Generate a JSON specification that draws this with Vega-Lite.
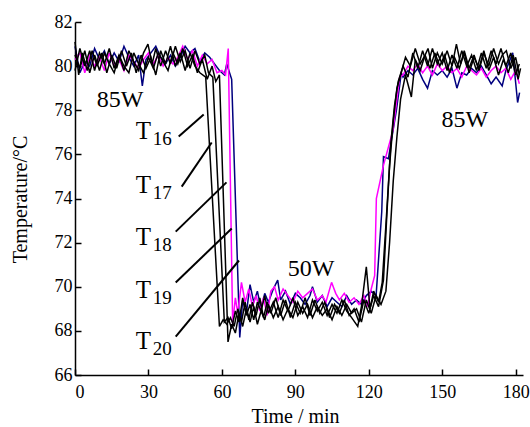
{
  "$schema": "https://vega.github.io/schema/vega-lite/v6.json",
  "width": 448,
  "height": 353,
  "autosize": {"type": "none"},
  "padding": {"left": 75, "top": 22, "right": 7, "bottom": 52},
  "background": "white",
  "config": {
    "view": {"stroke": null},
    "font": "Liberation Serif",
    "axis": {
      "grid": false,
      "domainColor": "#000",
      "domainWidth": 1.5,
      "tickColor": "#000",
      "tickWidth": 1.5,
      "tickSize": -6,
      "labelFont": "Liberation Serif",
      "labelFontSize": 18,
      "labelColor": "#000",
      "titleFont": "Liberation Serif",
      "titleFontSize": 20,
      "titleFontWeight": "normal",
      "titleColor": "#000"
    },
    "text": {"font": "Liberation Serif"}
  },
  "datasets": {
    "series": [
      {"s":"T20","t":0,"v":80.9},{"s":"T20","t":2,"v":79.7},{"s":"T20","t":4,"v":80.2},{"s":"T20","t":6,"v":80.0},{"s":"T20","t":8,"v":80.8},{"s":"T20","t":10,"v":80.3},{"s":"T20","t":12,"v":80.7},{"s":"T20","t":14,"v":80.1},{"s":"T20","t":16,"v":80.6},{"s":"T20","t":18,"v":80.2},{"s":"T20","t":20,"v":80.9},{"s":"T20","t":22,"v":80.4},{"s":"T20","t":24,"v":80.0},{"s":"T20","t":26,"v":80.5},{"s":"T20","t":27.5,"v":79.1},{"s":"T20","t":29,"v":80.3},{"s":"T20","t":31,"v":80.6},{"s":"T20","t":33,"v":80.9},{"s":"T20","t":35,"v":80.4},{"s":"T20","t":37,"v":80.1},{"s":"T20","t":39,"v":80.5},{"s":"T20","t":41,"v":80.0},{"s":"T20","t":43,"v":80.4},{"s":"T20","t":45,"v":80.9},{"s":"T20","t":47,"v":80.6},{"s":"T20","t":49,"v":80.8},{"s":"T20","t":51,"v":80.2},{"s":"T20","t":53,"v":80.6},{"s":"T20","t":55,"v":80.4},{"s":"T20","t":57,"v":80.1},{"s":"T20","t":59,"v":79.8},{"s":"T20","t":61,"v":79.6},{"s":"T20","t":62,"v":80.1},{"s":"T20","t":64,"v":79.4},{"s":"T20","t":67.3,"v":67.7},{"s":"T20","t":68.5,"v":69.4},{"s":"T20","t":70,"v":68.8},{"s":"T20","t":71.5,"v":70.1},{"s":"T20","t":73,"v":69.3},{"s":"T20","t":74.5,"v":69.8},{"s":"T20","t":76,"v":69.0},{"s":"T20","t":77.5,"v":69.7},{"s":"T20","t":79,"v":69.3},{"s":"T20","t":81,"v":69.9},{"s":"T20","t":82.8,"v":70.3},{"s":"T20","t":84,"v":69.4},{"s":"T20","t":86,"v":69.8},{"s":"T20","t":88,"v":69.2},{"s":"T20","t":90,"v":69.7},{"s":"T20","t":92,"v":69.5},{"s":"T20","t":94,"v":69.2},{"s":"T20","t":96,"v":69.6},{"s":"T20","t":97,"v":70.0},{"s":"T20","t":99,"v":69.3},{"s":"T20","t":101,"v":69.6},{"s":"T20","t":103,"v":69.1},{"s":"T20","t":105,"v":69.5},{"s":"T20","t":107,"v":69.3},{"s":"T20","t":109,"v":69.1},{"s":"T20","t":111,"v":69.6},{"s":"T20","t":113,"v":69.2},{"s":"T20","t":115,"v":69.4},{"s":"T20","t":117,"v":69.2},{"s":"T20","t":119,"v":69.6},{"s":"T20","t":121,"v":69.8},{"s":"T20","t":123,"v":69.6},{"s":"T20","t":125.3,"v":73.4},{"s":"T20","t":126,"v":75.9},{"s":"T20","t":128,"v":75.8},{"s":"T20","t":131.3,"v":78.0},{"s":"T20","t":133.3,"v":79.7},{"s":"T20","t":134,"v":79.5},{"s":"T20","t":136,"v":79.8},{"s":"T20","t":138,"v":79.6},{"s":"T20","t":140,"v":79.9},{"s":"T20","t":142,"v":79.4},{"s":"T20","t":144,"v":79.0},{"s":"T20","t":146,"v":79.8},{"s":"T20","t":148,"v":79.6},{"s":"T20","t":150,"v":79.8},{"s":"T20","t":152,"v":79.5},{"s":"T20","t":154,"v":79.9},{"s":"T20","t":156,"v":79.0},{"s":"T20","t":158,"v":79.7},{"s":"T20","t":160,"v":79.6},{"s":"T20","t":162,"v":79.9},{"s":"T20","t":164,"v":79.7},{"s":"T20","t":166,"v":80.0},{"s":"T20","t":168,"v":79.6},{"s":"T20","t":170,"v":79.2},{"s":"T20","t":172,"v":79.5},{"s":"T20","t":174.5,"v":79.1},{"s":"T20","t":176,"v":79.8},{"s":"T20","t":178.8,"v":80.6},{"s":"T20","t":180.8,"v":78.35},{"s":"T20","t":181.6,"v":78.8},
      {"s":"T19","t":0,"v":80.3},{"s":"T19","t":2,"v":80.6},{"s":"T19","t":4,"v":79.7},{"s":"T19","t":6,"v":80.5},{"s":"T19","t":8,"v":80.0},{"s":"T19","t":10,"v":80.4},{"s":"T19","t":12,"v":79.8},{"s":"T19","t":14,"v":80.6},{"s":"T19","t":16,"v":80.0},{"s":"T19","t":18,"v":80.3},{"s":"T19","t":20,"v":79.8},{"s":"T19","t":22,"v":80.5},{"s":"T19","t":24,"v":80.2},{"s":"T19","t":26,"v":79.9},{"s":"T19","t":28,"v":80.3},{"s":"T19","t":30,"v":80.6},{"s":"T19","t":32,"v":80.1},{"s":"T19","t":34,"v":80.5},{"s":"T19","t":36,"v":80.0},{"s":"T19","t":38,"v":80.4},{"s":"T19","t":40,"v":80.1},{"s":"T19","t":42,"v":80.4},{"s":"T19","t":44,"v":80.9},{"s":"T19","t":46,"v":80.3},{"s":"T19","t":48,"v":80.7},{"s":"T19","t":50,"v":80.0},{"s":"T19","t":52,"v":80.5},{"s":"T19","t":54,"v":80.1},{"s":"T19","t":56,"v":80.3},{"s":"T19","t":58,"v":79.7},{"s":"T19","t":60,"v":79.8},{"s":"T19","t":61.5,"v":79.6},{"s":"T19","t":62.6,"v":80.8},{"s":"T19","t":64.4,"v":68.3},{"s":"T19","t":65.5,"v":69.5},{"s":"T19","t":66.5,"v":68.8},{"s":"T19","t":68,"v":70.2},{"s":"T19","t":69.5,"v":69.3},{"s":"T19","t":71,"v":69.9},{"s":"T19","t":72.5,"v":69.1},{"s":"T19","t":74,"v":69.6},{"s":"T19","t":75.5,"v":68.9},{"s":"T19","t":77,"v":69.5},{"s":"T19","t":78.5,"v":68.7},{"s":"T19","t":80,"v":69.8},{"s":"T19","t":81.5,"v":70.0},{"s":"T19","t":83,"v":69.4},{"s":"T19","t":85,"v":69.9},{"s":"T19","t":87,"v":69.6},{"s":"T19","t":89,"v":69.3},{"s":"T19","t":91,"v":69.8},{"s":"T19","t":93,"v":69.5},{"s":"T19","t":95,"v":69.7},{"s":"T19","t":97,"v":69.9},{"s":"T19","t":99,"v":69.4},{"s":"T19","t":101,"v":69.6},{"s":"T19","t":102.5,"v":69.3},{"s":"T19","t":104.8,"v":70.2},{"s":"T19","t":106.5,"v":69.7},{"s":"T19","t":108,"v":69.4},{"s":"T19","t":110,"v":69.7},{"s":"T19","t":112,"v":69.3},{"s":"T19","t":114,"v":69.5},{"s":"T19","t":116,"v":69.2},{"s":"T19","t":118,"v":69.6},{"s":"T19","t":119.5,"v":69.1},{"s":"T19","t":121,"v":69.9},{"s":"T19","t":122.4,"v":70.5},{"s":"T19","t":123.1,"v":74.0},{"s":"T19","t":126,"v":75.5},{"s":"T19","t":129.9,"v":77.1},{"s":"T19","t":132.6,"v":79.5},{"s":"T19","t":134,"v":79.6},{"s":"T19","t":136,"v":80.0},{"s":"T19","t":138,"v":79.8},{"s":"T19","t":140,"v":80.1},{"s":"T19","t":142,"v":79.7},{"s":"T19","t":144,"v":80.0},{"s":"T19","t":146,"v":79.6},{"s":"T19","t":148,"v":80.1},{"s":"T19","t":150,"v":79.8},{"s":"T19","t":152,"v":80.0},{"s":"T19","t":154,"v":79.7},{"s":"T19","t":156,"v":79.9},{"s":"T19","t":158,"v":79.5},{"s":"T19","t":160,"v":80.0},{"s":"T19","t":162,"v":79.8},{"s":"T19","t":164,"v":79.6},{"s":"T19","t":166,"v":79.9},{"s":"T19","t":168,"v":79.5},{"s":"T19","t":170,"v":79.8},{"s":"T19","t":172,"v":80.0},{"s":"T19","t":174,"v":79.7},{"s":"T19","t":176,"v":79.9},{"s":"T19","t":178,"v":79.4},{"s":"T19","t":180,"v":79.8},{"s":"T19","t":181.5,"v":79.2},
      {"s":"T16","t":0,"v":81.1},{"s":"T16","t":1.5,"v":79.6},{"s":"T16","t":3,"v":80.6},{"s":"T16","t":5,"v":79.8},{"s":"T16","t":7,"v":80.7},{"s":"T16","t":9,"v":80.0},{"s":"T16","t":11,"v":80.6},{"s":"T16","t":13,"v":79.7},{"s":"T16","t":15,"v":80.5},{"s":"T16","t":17,"v":79.9},{"s":"T16","t":19,"v":80.7},{"s":"T16","t":21,"v":80.0},{"s":"T16","t":23,"v":80.6},{"s":"T16","t":25,"v":79.7},{"s":"T16","t":27,"v":80.5},{"s":"T16","t":29,"v":79.9},{"s":"T16","t":31,"v":80.4},{"s":"T16","t":33,"v":79.6},{"s":"T16","t":35,"v":80.7},{"s":"T16","t":37,"v":80.1},{"s":"T16","t":39,"v":80.9},{"s":"T16","t":41,"v":80.0},{"s":"T16","t":43,"v":80.6},{"s":"T16","t":45,"v":79.8},{"s":"T16","t":47,"v":80.6},{"s":"T16","t":49,"v":80.0},{"s":"T16","t":51,"v":79.7},{"s":"T16","t":53.4,"v":79.5},{"s":"T16","t":59,"v":68.2},{"s":"T16","t":60.5,"v":68.5},{"s":"T16","t":62,"v":68.3},{"s":"T16","t":63.5,"v":68.6},{"s":"T16","t":65,"v":68.2},{"s":"T16","t":66.5,"v":69.0},{"s":"T16","t":68,"v":68.4},{"s":"T16","t":69.5,"v":69.3},{"s":"T16","t":71,"v":68.5},{"s":"T16","t":72.5,"v":69.3},{"s":"T16","t":74,"v":68.7},{"s":"T16","t":75.5,"v":69.5},{"s":"T16","t":77,"v":68.6},{"s":"T16","t":78.5,"v":69.3},{"s":"T16","t":80,"v":68.8},{"s":"T16","t":82,"v":69.5},{"s":"T16","t":84,"v":68.7},{"s":"T16","t":86,"v":69.4},{"s":"T16","t":88,"v":68.6},{"s":"T16","t":90,"v":69.3},{"s":"T16","t":92,"v":68.8},{"s":"T16","t":94,"v":69.5},{"s":"T16","t":96,"v":68.7},{"s":"T16","t":98,"v":69.4},{"s":"T16","t":100,"v":68.8},{"s":"T16","t":102,"v":69.3},{"s":"T16","t":104,"v":68.6},{"s":"T16","t":106,"v":69.2},{"s":"T16","t":108,"v":68.8},{"s":"T16","t":110,"v":69.4},{"s":"T16","t":112,"v":68.7},{"s":"T16","t":114,"v":69.0},{"s":"T16","t":116,"v":68.4},{"s":"T16","t":118,"v":69.4},{"s":"T16","t":120,"v":68.8},{"s":"T16","t":122,"v":69.6},{"s":"T16","t":124,"v":69.1},{"s":"T16","t":126,"v":70.3},{"s":"T16","t":127.5,"v":73.5},{"s":"T16","t":129,"v":76.5},{"s":"T16","t":130.5,"v":78.2},{"s":"T16","t":132,"v":79.3},{"s":"T16","t":134,"v":80.0},{"s":"T16","t":136,"v":79.5},{"s":"T16","t":138,"v":80.6},{"s":"T16","t":140,"v":79.9},{"s":"T16","t":142,"v":80.7},{"s":"T16","t":144,"v":80.0},{"s":"T16","t":146,"v":80.8},{"s":"T16","t":148,"v":80.1},{"s":"T16","t":150,"v":80.6},{"s":"T16","t":152,"v":79.8},{"s":"T16","t":154,"v":80.5},{"s":"T16","t":156,"v":79.9},{"s":"T16","t":158,"v":80.7},{"s":"T16","t":160,"v":80.0},{"s":"T16","t":162,"v":80.5},{"s":"T16","t":164,"v":79.8},{"s":"T16","t":166,"v":80.6},{"s":"T16","t":168,"v":79.9},{"s":"T16","t":170,"v":80.7},{"s":"T16","t":172,"v":80.1},{"s":"T16","t":174,"v":80.8},{"s":"T16","t":176,"v":80.0},{"s":"T16","t":178,"v":80.6},{"s":"T16","t":180,"v":79.6},{"s":"T16","t":181.5,"v":80.1},
      {"s":"T17","t":0,"v":79.8},{"s":"T17","t":2,"v":80.8},{"s":"T17","t":4,"v":80.0},{"s":"T17","t":6,"v":80.7},{"s":"T17","t":8,"v":79.8},{"s":"T17","t":10,"v":80.6},{"s":"T17","t":12,"v":80.1},{"s":"T17","t":14,"v":80.8},{"s":"T17","t":16,"v":79.9},{"s":"T17","t":18,"v":80.5},{"s":"T17","t":20,"v":79.8},{"s":"T17","t":22,"v":80.7},{"s":"T17","t":24,"v":80.2},{"s":"T17","t":26,"v":79.8},{"s":"T17","t":28,"v":80.6},{"s":"T17","t":29.8,"v":81.0},{"s":"T17","t":31.5,"v":80.1},{"s":"T17","t":33,"v":80.8},{"s":"T17","t":35,"v":80.0},{"s":"T17","t":37,"v":80.7},{"s":"T17","t":39,"v":80.1},{"s":"T17","t":41,"v":80.9},{"s":"T17","t":43,"v":80.2},{"s":"T17","t":45,"v":80.7},{"s":"T17","t":47,"v":79.9},{"s":"T17","t":49,"v":80.7},{"s":"T17","t":51,"v":80.1},{"s":"T17","t":53,"v":80.5},{"s":"T17","t":54.5,"v":79.7},{"s":"T17","t":56.3,"v":79.5},{"s":"T17","t":61,"v":68.4},{"s":"T17","t":62.5,"v":68.6},{"s":"T17","t":64,"v":68.1},{"s":"T17","t":65.5,"v":68.9},{"s":"T17","t":67,"v":68.4},{"s":"T17","t":68.5,"v":69.5},{"s":"T17","t":70,"v":68.7},{"s":"T17","t":71.5,"v":69.2},{"s":"T17","t":73,"v":68.5},{"s":"T17","t":74.5,"v":69.3},{"s":"T17","t":76,"v":68.9},{"s":"T17","t":77.5,"v":69.6},{"s":"T17","t":79,"v":68.8},{"s":"T17","t":81,"v":69.3},{"s":"T17","t":83,"v":68.6},{"s":"T17","t":85,"v":69.4},{"s":"T17","t":87,"v":68.9},{"s":"T17","t":89,"v":69.5},{"s":"T17","t":91,"v":68.7},{"s":"T17","t":93,"v":69.1},{"s":"T17","t":95,"v":68.6},{"s":"T17","t":97,"v":69.4},{"s":"T17","t":99,"v":68.9},{"s":"T17","t":101,"v":69.3},{"s":"T17","t":103,"v":68.7},{"s":"T17","t":105,"v":69.2},{"s":"T17","t":107,"v":68.8},{"s":"T17","t":109,"v":69.4},{"s":"T17","t":111,"v":68.9},{"s":"T17","t":113,"v":68.6},{"s":"T17","t":115.5,"v":68.2},{"s":"T17","t":117,"v":69.1},{"s":"T17","t":119,"v":70.9},{"s":"T17","t":120.5,"v":69.0},{"s":"T17","t":122,"v":69.8},{"s":"T17","t":124,"v":69.3},{"s":"T17","t":125.5,"v":70.2},{"s":"T17","t":127,"v":72.8},{"s":"T17","t":128.5,"v":75.5},{"s":"T17","t":130,"v":77.5},{"s":"T17","t":131.5,"v":79.0},{"s":"T17","t":133,"v":79.6},{"s":"T17","t":135,"v":80.4},{"s":"T17","t":137,"v":80.0},{"s":"T17","t":139,"v":80.8},{"s":"T17","t":141,"v":80.1},{"s":"T17","t":143,"v":80.5},{"s":"T17","t":144.2,"v":80.8},{"s":"T17","t":146,"v":79.9},{"s":"T17","t":148,"v":80.6},{"s":"T17","t":150,"v":80.1},{"s":"T17","t":152,"v":80.7},{"s":"T17","t":154,"v":80.0},{"s":"T17","t":155.8,"v":81.0},{"s":"T17","t":157.5,"v":80.1},{"s":"T17","t":159,"v":80.7},{"s":"T17","t":161,"v":79.9},{"s":"T17","t":163,"v":80.5},{"s":"T17","t":165,"v":79.8},{"s":"T17","t":167,"v":80.6},{"s":"T17","t":169,"v":80.0},{"s":"T17","t":171,"v":80.8},{"s":"T17","t":173,"v":80.1},{"s":"T17","t":174.5,"v":80.5},{"s":"T17","t":176.2,"v":80.7},{"s":"T17","t":178,"v":79.9},{"s":"T17","t":180,"v":80.4},{"s":"T17","t":181.5,"v":79.6},
      {"s":"T18","t":0,"v":80.5},{"s":"T18","t":2,"v":79.9},{"s":"T18","t":4,"v":80.7},{"s":"T18","t":6,"v":79.7},{"s":"T18","t":8,"v":80.5},{"s":"T18","t":10,"v":79.8},{"s":"T18","t":12,"v":80.6},{"s":"T18","t":14,"v":80.1},{"s":"T18","t":16,"v":79.7},{"s":"T18","t":18,"v":80.5},{"s":"T18","t":20,"v":80.0},{"s":"T18","t":22,"v":79.7},{"s":"T18","t":24,"v":80.6},{"s":"T18","t":26,"v":80.1},{"s":"T18","t":28,"v":79.7},{"s":"T18","t":30,"v":80.4},{"s":"T18","t":32,"v":79.9},{"s":"T18","t":34,"v":80.6},{"s":"T18","t":36,"v":80.2},{"s":"T18","t":38,"v":79.8},{"s":"T18","t":40,"v":80.6},{"s":"T18","t":42,"v":80.1},{"s":"T18","t":44,"v":80.8},{"s":"T18","t":46,"v":80.0},{"s":"T18","t":48,"v":80.5},{"s":"T18","t":50,"v":79.7},{"s":"T18","t":52,"v":80.3},{"s":"T18","t":54,"v":79.4},{"s":"T18","t":56,"v":80.0},{"s":"T18","t":57.5,"v":79.3},{"s":"T18","t":59,"v":79.6},{"s":"T18","t":62.5,"v":67.5},{"s":"T18","t":64,"v":68.3},{"s":"T18","t":65.5,"v":67.9},{"s":"T18","t":67,"v":68.8},{"s":"T18","t":68.5,"v":68.2},{"s":"T18","t":70,"v":69.0},{"s":"T18","t":71.5,"v":68.4},{"s":"T18","t":73,"v":69.1},{"s":"T18","t":74.5,"v":68.3},{"s":"T18","t":76,"v":68.9},{"s":"T18","t":77.5,"v":68.5},{"s":"T18","t":79,"v":69.2},{"s":"T18","t":81,"v":68.6},{"s":"T18","t":83,"v":69.1},{"s":"T18","t":85,"v":68.5},{"s":"T18","t":87,"v":69.0},{"s":"T18","t":89,"v":68.6},{"s":"T18","t":91,"v":69.3},{"s":"T18","t":93,"v":68.8},{"s":"T18","t":95,"v":69.2},{"s":"T18","t":97,"v":68.6},{"s":"T18","t":99,"v":69.1},{"s":"T18","t":101,"v":68.7},{"s":"T18","t":103,"v":69.0},{"s":"T18","t":105,"v":68.5},{"s":"T18","t":107,"v":69.1},{"s":"T18","t":109,"v":68.7},{"s":"T18","t":111,"v":69.2},{"s":"T18","t":113,"v":68.8},{"s":"T18","t":115,"v":69.0},{"s":"T18","t":117,"v":68.4},{"s":"T18","t":119,"v":69.4},{"s":"T18","t":121,"v":68.8},{"s":"T18","t":123,"v":69.6},{"s":"T18","t":125,"v":69.2},{"s":"T18","t":127,"v":69.8},{"s":"T18","t":128.5,"v":72.0},{"s":"T18","t":130,"v":74.8},{"s":"T18","t":131.5,"v":76.8},{"s":"T18","t":133,"v":78.5},{"s":"T18","t":135,"v":79.6},{"s":"T18","t":137.4,"v":78.6},{"s":"T18","t":139,"v":80.3},{"s":"T18","t":141,"v":79.8},{"s":"T18","t":143,"v":80.5},{"s":"T18","t":145,"v":79.9},{"s":"T18","t":147,"v":80.6},{"s":"T18","t":149,"v":80.0},{"s":"T18","t":151,"v":80.5},{"s":"T18","t":153,"v":79.7},{"s":"T18","t":155,"v":80.4},{"s":"T18","t":157,"v":79.9},{"s":"T18","t":159,"v":80.6},{"s":"T18","t":161,"v":79.7},{"s":"T18","t":163,"v":80.4},{"s":"T18","t":165,"v":79.9},{"s":"T18","t":167,"v":80.7},{"s":"T18","t":169,"v":79.8},{"s":"T18","t":171,"v":80.4},{"s":"T18","t":173,"v":79.6},{"s":"T18","t":175,"v":80.3},{"s":"T18","t":177,"v":79.7},{"s":"T18","t":179,"v":80.5},{"s":"T18","t":181,"v":79.4},{"s":"T18","t":182,"v":79.9}
    ],
    "pointers": [
      {"k":"16","t":42.36,"v":76.81,"t2":52.57,"v2":77.81},
      {"k":"17","t":43.59,"v":74.54,"t2":55.84,"v2":76.54},
      {"k":"18","t":41.14,"v":72.50,"t2":61.87,"v2":74.73},
      {"k":"19","t":41.14,"v":70.19,"t2":64.02,"v2":72.64},
      {"k":"20","t":41.14,"v":67.74,"t2":66.98,"v2":71.19}
    ],
    "tlabels": [
      {"k":"16","t":24.8,"v":76.68},
      {"k":"17","t":24.8,"v":74.27},
      {"k":"18","t":24.8,"v":71.87},
      {"k":"19","t":24.8,"v":69.47},
      {"k":"20","t":24.8,"v":67.16}
    ],
    "notes": [
      {"txt":"85W","t":8.9,"v":78.13},
      {"txt":"85W","t":149.7,"v":77.22},
      {"txt":"50W","t":86.9,"v":70.47}
    ]
  },
  "layer": [
    {
      "data": {"name": "series"},
      "mark": {"type": "line", "strokeJoin": "miter", "strokeMiterLimit": 3},
      "encoding": {
        "x": {"field": "t", "type": "quantitative", "scale": {"domain": [0, 183], "nice": false, "zero": false},
              "axis": {"values": [0,30,60,90,120,150,180], "title": "Time / min", "labelPadding": 14, "titleX": 220, "titleY": 47, "titleBaseline": "alphabetic"}},
        "y": {"field": "v", "type": "quantitative", "scale": {"domain": [66, 82], "nice": false, "zero": false},
              "axis": {"values": [66,68,70,72,74,76,78,80,82], "title": "Temperature/°C", "labelPadding": 9, "titleX": -49, "titleY": 177, "titleAngle": -90, "titleBaseline": "alphabetic"}},
        "color": {"field": "s", "type": "nominal", "legend": null,
                  "scale": {"domain": ["T20","T19","T16","T17","T18"], "range": ["#00007f","#ff00ff","#000000","#000000","#000000"]}},
        "strokeWidth": {"field": "s", "type": "nominal", "legend": null,
                  "scale": {"domain": ["T20","T19","T16","T17","T18"], "range": [1.5,1.5,2,2,2]}},
        "order": {"field": "t", "type": "quantitative"}
      }
    },
    {
      "data": {"name": "pointers"},
      "mark": {"type": "rule", "color": "#000", "strokeWidth": 2},
      "encoding": {
        "x": {"field": "t", "type": "quantitative"},
        "y": {"field": "v", "type": "quantitative"},
        "x2": {"field": "t2"},
        "y2": {"field": "v2"}
      }
    },
    {
      "data": {"name": "tlabels"},
      "mark": {"type": "text", "text": "T", "fontSize": 25, "align": "left", "baseline": "alphabetic", "color": "#000"},
      "encoding": {
        "x": {"field": "t", "type": "quantitative"},
        "y": {"field": "v", "type": "quantitative"}
      }
    },
    {
      "data": {"name": "tlabels"},
      "mark": {"type": "text", "fontSize": 19, "align": "left", "baseline": "alphabetic", "dx": 17, "dy": 6, "color": "#000"},
      "encoding": {
        "x": {"field": "t", "type": "quantitative"},
        "y": {"field": "v", "type": "quantitative"},
        "text": {"field": "k"}
      }
    },
    {
      "data": {"name": "notes"},
      "mark": {"type": "text", "fontSize": 24, "align": "left", "baseline": "alphabetic", "color": "#000"},
      "encoding": {
        "x": {"field": "t", "type": "quantitative"},
        "y": {"field": "v", "type": "quantitative"},
        "text": {"field": "txt"}
      }
    }
  ]
}
